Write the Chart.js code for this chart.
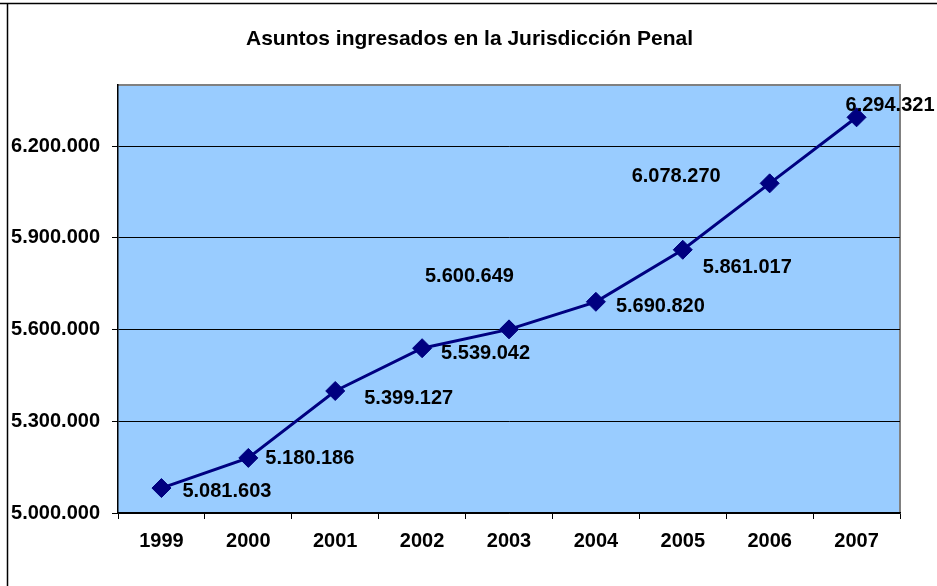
<!DOCTYPE html>
<html>
<head>
<meta charset="utf-8">
<title>Asuntos ingresados en la Jurisdicción Penal</title>
<script src="https://cdn.jsdelivr.net/npm/chart.js@4.4.1/dist/chart.umd.min.js"></script>
<style>
  html, body { margin: 0; padding: 0; background: #fff; }
  canvas { display: block; }
</style>
</head>
<body>
<canvas id="chartPenal" width="937" height="586"></canvas>
<script>
/* ============================
   Datos
============================ */
const titulo = "Asuntos ingresados en la Jurisdicción Penal";
const anios = ["1999", "2000", "2001", "2002", "2003", "2004", "2005", "2006", "2007"];
const asuntos = [5081603, 5180186, 5399127, 5539042, 5600649, 5690820, 5861017, 6078270, 6294321];
const ticksY = [5000000, 5300000, 5600000, 5900000, 6200000];

const FUENTE = "'Liberation Sans', Arial, sans-serif";
const fmt = (v) => v.toString().replace(/\B(?=(\d{3})+(?!\d))/g, ".");

/* ============================
   Plugins
============================ */
// fondo azul del área de trazado + borde gris arriba/derecha + marco de la hoja + título
const fondoPlot = {
    id: "fondoPlot",
    beforeDraw(chart) {
        const { ctx, chartArea: a } = chart;
        ctx.save();
        ctx.fillStyle = "#99CCFF";
        ctx.fillRect(a.left, a.top, a.right - a.left, a.bottom - a.top);
        ctx.strokeStyle = "#808080";
        ctx.lineWidth = 2;
        ctx.beginPath();
        ctx.moveTo(a.left, a.top);
        ctx.lineTo(a.right, a.top);
        ctx.lineTo(a.right, a.bottom);
        ctx.stroke();
        // marco
        ctx.strokeStyle = "#000";
        ctx.lineWidth = 1.5;
        ctx.beginPath();
        ctx.moveTo(0, 3.5);
        ctx.lineTo(chart.width, 3.5);
        ctx.moveTo(7.5, 3.5);
        ctx.lineTo(7.5, chart.height);
        ctx.stroke();
        // título centrado en la hoja
        ctx.font = `bold 21px ${FUENTE}`;
        ctx.fillStyle = "#000";
        ctx.textAlign = "center";
        ctx.textBaseline = "alphabetic";
        ctx.fillText(titulo, chart.width / 2 + 1, 45);
        ctx.restore();
    }
};

// etiquetas de valores junto a cada punto
const etiquetas = {
    id: "etiquetas",
    afterDatasetsDraw(chart, args, opts) {
        const { ctx } = chart;
        const meta = chart.getDatasetMeta(0);
        ctx.save();
        ctx.font = `bold 20px ${FUENTE}`;
        ctx.fillStyle = "#000";
        ctx.textAlign = "left";
        ctx.textBaseline = "middle";
        meta.data.forEach((pt, i) => {
            const [dx, dy] = opts.offsets[i] || [15, 0];
            ctx.fillText(fmt(asuntos[i]), pt.x + dx, pt.y + dy);
        });
        ctx.restore();
    }
};

/* ============================
   Gráfica
============================ */
const ctx = document.getElementById("chartPenal").getContext("2d");
new Chart(ctx, {
    type: "line",
    data: {
        labels: anios,
        datasets: [{
            label: "Asuntos ingresados",
            data: asuntos,
            borderColor: "#000080",
            borderWidth: 3,
            backgroundColor: "#000080",
            pointStyle: "rectRot",
            pointRadius: 9.5,
            pointHoverRadius: 9.5,
            pointBorderWidth: 1,
            pointBorderColor: "#000080",
            pointBackgroundColor: "#000080",
            tension: 0,
            fill: false
        }]
    },
    options: {
        responsive: false,
        animation: false,
        layout: { padding: { left: 0, right: 37, top: 85, bottom: 0 } },
        plugins: {
            legend: { display: false },
            tooltip: { enabled: false },
            title: { display: false },
            etiquetas: {
                offsets: [[21, 3], [17, 1], [29, 8], [19, 5], [-84, -53], [20, 5], [20, 18], [-138, -7], [-11, -12]]
            }
        },
        scales: {
            x: {
                offset: true,
                grid: { display: true, drawOnChartArea: false, drawTicks: true, tickLength: 6, color: "#000", offset: true },
                border: { display: true, color: "#000", width: 1.5 },
                ticks: {
                    color: "#000",
                    padding: 10,
                    maxRotation: 0,
                    font: { family: FUENTE, size: 20, weight: "bold" }
                },
                afterFit: (s) => { s.height = 73; }
            },
            y: {
                min: 5000000,
                max: 6400000,
                afterBuildTicks: (s) => { s.ticks = ticksY.map((v) => ({ value: v })); },
                grid: { color: "#000", lineWidth: 1, drawTicks: true, tickLength: 6 },
                border: { display: true, color: "#000", width: 1.5 },
                ticks: {
                    color: "#000",
                    padding: 12,
                    callback: (v) => fmt(v),
                    font: { family: FUENTE, size: 20, weight: "bold" }
                },
                afterFit: (s) => { s.width = 118; }
            }
        }
    },
    plugins: [fondoPlot, etiquetas]
});
</script>
</body>
</html>
